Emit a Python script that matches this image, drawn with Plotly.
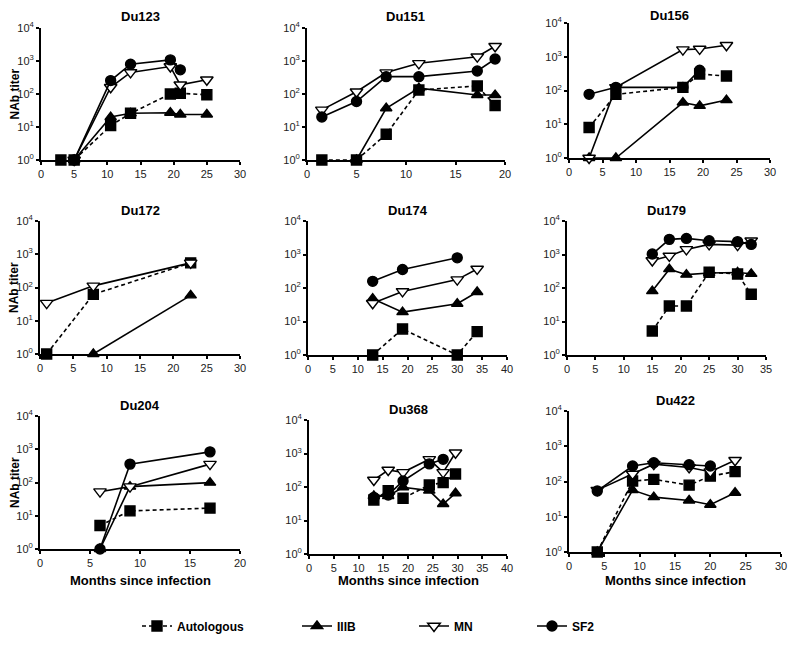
import plotly.graph_objects as go

# ---- data: months since infection vs NAb titer, per patient and virus ----
panel_names = ["Du123", "Du151", "Du156", "Du172", "Du174", "Du179", "Du204", "Du368", "Du422"]
x_max = [30, 20, 30, 30, 40, 35, 20, 40, 30]
viruses = ["Autologous", "IIIB", "MN", "SF2"]

du123 = {
    "Autologous": ([3, 5, 10.5, 13.5, 19.5, 21, 25], [1, 1, 11, 26, 100, 105, 95]),
    "IIIB": ([5, 10.5, 13.5, 19.5, 21, 25], [1, 20, 26, 27, 24, 24]),
    "MN": ([5, 10.5, 13.5, 19.5, 21, 25], [1, 160, 450, 680, 190, 270]),
    "SF2": ([5, 10.5, 13.5, 19.5, 21], [1, 255, 800, 1080, 540]),
}
du151 = {
    "Autologous": ([1.5, 5, 8, 11.3, 17.2, 19], [1, 1, 6, 132, 175, 45]),
    "IIIB": ([5, 8, 11.3, 17.2, 19], [1, 37, 150, 93, 93]),
    "MN": ([1.5, 5, 8, 11.3, 17.2, 19], [33, 117, 445, 850, 1350, 2800]),
    "SF2": ([1.5, 5, 8, 11.3, 17.2, 19], [20, 59, 335, 335, 500, 1150]),
}
du156 = {
    "Autologous": ([3, 7, 17, 19.5, 23.5], [8, 77, 124, 308, 268]),
    "IIIB": ([3, 7, 17, 19.5, 23.5], [1, 1, 44, 35, 52]),
    "MN": ([3, 7, 17, 19.5, 23.5], [1, 124, 1630, 1700, 2190]),
    "SF2": ([3, 7, 17, 19.5], [77, 124, 124, 400]),
}
du172 = {
    "Autologous": ([1, 8, 22.6], [1, 62, 550]),
    "IIIB": ([8, 22.6], [1, 58]),
    "MN": ([1, 8, 22.6], [34, 112, 550]),
    "SF2": ([], []),
}
du174 = {
    "Autologous": ([13, 19, 30, 34], [1, 6, 1, 5]),
    "IIIB": ([13, 19, 30, 34], [48, 19, 34, 76]),
    "MN": ([13, 19, 30, 34], [35, 79, 178, 370]),
    "SF2": ([13, 19, 30], [158, 355, 795]),
}
du179 = {
    "Autologous": ([15, 18, 21, 25, 30, 32.4], [5.2, 29, 29, 295, 262, 65]),
    "IIIB": ([15, 18, 21, 25, 30, 32.4], [81, 365, 250, 280, 290, 265]),
    "MN": ([15, 18, 21, 25, 30, 32.4], [660, 905, 1420, 2000, 1910, 2580]),
    "SF2": ([15, 18, 21, 25, 30, 32.4], [1030, 2830, 3020, 2580, 2420, 2000]),
}
du204 = {
    "Autologous": ([6, 9, 17], [5.1, 14, 17]),
    "IIIB": ([6, 9, 17], [1, 75, 99]),
    "MN": ([6, 9, 17], [53, 75, 357]),
    "SF2": ([6, 9, 17], [1, 357, 835]),
}
du368 = {
    "Autologous": ([13.1, 16, 19, 24.3, 27.1, 29.6], [41, 78, 46, 115, 135, 245]),
    "IIIB": ([13.1, 16, 19, 24.3, 27.1, 29.6], [54, 54, 98, 78, 31, 65]),
    "MN": ([13.1, 16, 19, 24.3, 27.1, 29.6], [162, 322, 274, 670, 274, 1050]),
    "SF2": ([13.1, 16, 19, 24.3, 27.1], [49, 58, 151, 490, 670]),
}
du422 = {
    "Autologous": ([4, 9, 12, 17, 20, 23.5], [1, 103, 115, 79, 142, 190]),
    "IIIB": ([4, 9, 12, 17, 20, 23.5], [1, 57, 36, 29, 22, 48]),
    "MN": ([4, 9, 12, 17, 20, 23.5], [57, 163, 310, 250, 190, 400]),
    "SF2": ([4, 9, 12, 17, 20], [54, 275, 340, 300, 275]),
}
panel_data = [du123, du151, du156, du172, du174, du179, du204, du368, du422]

y_tickvals = [1, 10, 100, 1000, 10000]
y_ticktext = ["10<sup>0</sup>", "10<sup>1</sup>", "10<sup>2</sup>", "10<sup>3</sup>", "10<sup>4</sup>"]

# ---- styles / layout ----
# page body has an 8px margin, so figure is 8px smaller and coords are shifted
PAD = 8
W, H = 800 - PAD, 645 - PAD
FONT = "Liberation Sans, Arial, sans-serif"


def fx(px):
    return (px - PAD) / W


def fy(py):
    return 1 - (py - PAD) / H


styles = {
    "Autologous": dict(symbol="square", color="black", fill="black", dash="4px,3px", size=10),
    "IIIB": dict(symbol="triangle-up", color="black", fill="black", dash="solid", size=10),
    "MN": dict(symbol="triangle-down", color="black", fill="white", dash="solid", size=11),
    "SF2": dict(symbol="circle", color="black", fill="black", dash="solid", size=10),
}

# pixel boxes of the plotting areas: left, right, top (10^4), bottom (10^0)
panel_px = [
    (41, 240, 28, 160), (307, 505, 28, 160), (569, 770, 23, 158),
    (40, 240, 221, 354), (308, 507, 221, 355), (567, 766, 221, 355),
    (40, 240, 416, 549), (309, 507, 420, 554), (569, 781, 411, 552),
]

fig = go.Figure()
annotations = []
layout_axes = {}

for i, (name, data, xm, box) in enumerate(zip(panel_names, panel_data, x_max, panel_px), start=1):
    l, r, t, b = box
    xa = "x" if i == 1 else f"x{i}"
    ya = "y" if i == 1 else f"y{i}"
    for v in viruses:
        xs, ys = data[v]
        if not xs:
            continue
        s = styles[v]
        fig.add_trace(go.Scatter(
            x=xs, y=ys, xaxis=xa, yaxis=ya,
            mode="lines+markers",
            name=v,
            legend="legend" if v == "Autologous" else f"legend{viruses.index(v) + 1}",
            showlegend=(i == 1),
            cliponaxis=False,
            line=dict(color="black", width=1.6, dash=s["dash"]),
            marker=dict(symbol=s["symbol"], size=s["size"], color=s["fill"],
                        line=dict(color=s["color"], width=1.4)),
        ))

    axis_common = dict(showline=True, linecolor="black", linewidth=2, showgrid=False,
                       zeroline=False, ticks="outside", ticklen=3, tickwidth=1.5,
                       automargin=False, tickcolor="black",
                       tickfont=dict(family=FONT, size=11, color="#222"))
    layout_axes["xaxis" if i == 1 else f"xaxis{i}"] = dict(
        domain=[fx(l), fx(r)], anchor=ya, range=[0, xm], dtick=5, tick0=0, **axis_common)
    layout_axes["yaxis" if i == 1 else f"yaxis{i}"] = dict(
        domain=[fy(b), fy(t)], anchor=xa, type="log", range=[0, 4],
        tickvals=y_tickvals, ticktext=y_ticktext, **axis_common)

    annotations.append(dict(text=f"<b>{name}</b>", x=fx((l + r) / 2), y=fy(max(t - 11, 16)),
                            xanchor="center", yanchor="middle",
                            xref="paper", yref="paper", showarrow=False,
                            font=dict(family=FONT, size=13, color="black")))
    if l < 100:
        annotations.append(dict(text="<b>NAb titer</b>", x=fx(14.5), y=fy((t + b) / 2),
                                xanchor="center", yanchor="middle",
                                xref="paper", yref="paper", showarrow=False, textangle=-90,
                                font=dict(family=FONT, size=12, color="black")))
    if t > 400:
        annotations.append(dict(text="<b>Months since infection</b>", x=fx((l + r) / 2),
                                y=fy(580), xanchor="center", yanchor="middle",
                                xref="paper", yref="paper", showarrow=False,
                                font=dict(family=FONT, size=13, color="black")))

legend_x = [137, 297, 414, 532]
legends = {}
for k, lx in enumerate(legend_x):
    key = "legend" if k == 0 else f"legend{k + 1}"
    legends[key] = dict(x=fx(lx), y=fy(626), xanchor="left", yanchor="middle",
                        orientation="h", bgcolor="rgba(0,0,0,0)", itemwidth=30,
                        font=dict(family=FONT, size=12, color="black", weight="bold"))

fig.update_layout(
    template="none",
    width=W, height=H,
    margin=dict(l=0, r=0, t=0, b=0),
    plot_bgcolor="white", paper_bgcolor="white",
    annotations=annotations,
    **layout_axes,
    **legends,
)

fig.write_html("out.html")
